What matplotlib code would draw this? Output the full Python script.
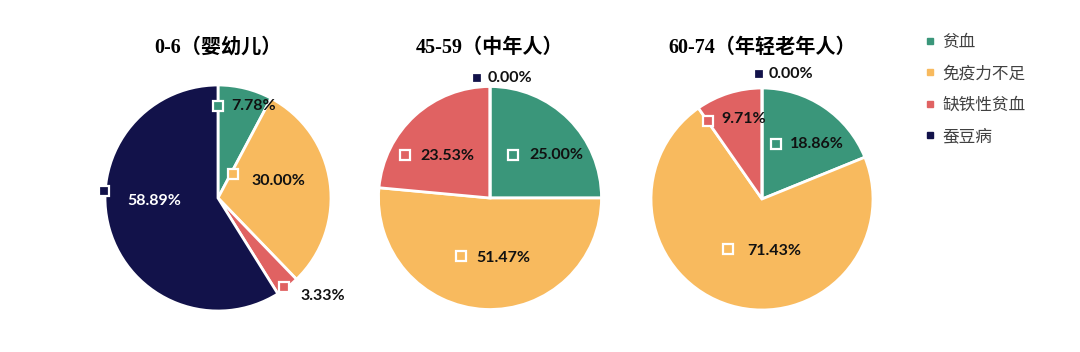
import matplotlib.pyplot as plt
from matplotlib.lines import Line2D

categories = ["贫血", "免疫力不足", "缺铁性贫血", "蚕豆病"]
colors = ["#3a967a", "#f8ba5e", "#e06262", "#12124a"]

titles = ["0-6（婴幼儿）", "45-59（中年人）", "60-74（年轻老年人）"]
infant = [7.78, 30.00, 3.33, 58.89]
middle_aged = [25.00, 51.47, 23.53, 0.00]
young_old = [18.86, 71.43, 9.71, 0.00]
groups = [infant, middle_aged, young_old]

# label layout, in pie-radius units: (marker x, marker y, text x, text y)
label_layout = [
    [(0.00, 0.81, 0.12, 0.81), (0.13, 0.21, 0.30, 0.15),
     (0.58, -0.79, 0.73, -0.87), (-1.01, 0.06, -0.80, -0.03)],
    [(0.21, 0.39, 0.35, 0.39), (-0.26, -0.52, -0.12, -0.54),
     (-0.76, 0.39, -0.62, 0.38), (-0.12, 1.08, -0.02, 1.08)],
    [(0.13, 0.50, 0.25, 0.50), (-0.31, -0.45, -0.13, -0.47),
     (-0.49, 0.70, -0.37, 0.72), (-0.03, 1.13, 0.06, 1.13)],
]
text_colors = [["#111111", "#111111", "#111111", "white"],
               ["#111111"] * 4, ["#111111"] * 4]

W, H = 1080, 352
centers = [(218, 198, 113), (490, 198, 111.5), (762, 199, 111)]

fig = plt.figure(figsize=(W / 100, H / 100), dpi=100)

for i, (cx, cy, r) in enumerate(centers):
    half = 1.3 * r
    ax = fig.add_axes([(cx - half) / W, (H - cy - half) / H, 2 * half / W, 2 * half / H])
    ax.pie(groups[i], colors=colors, startangle=90, counterclock=False,
           wedgeprops=dict(edgecolor="white", linewidth=2))
    ax.set_xlim(-1.3, 1.3)
    ax.set_ylim(-1.3, 1.3)
    ax.set_aspect("equal")
    ax.axis("off")
    for j, v in enumerate(groups[i]):
        mx, my, tx, ty = label_layout[i][j]
        ax.plot(mx, my, marker="s", markersize=7, markerfacecolor=colors[j],
                markeredgecolor="white", markeredgewidth=1.6, linestyle="none",
                clip_on=False)
        ax.text(tx, ty, f"{v:.2f}%", ha="left", va="center", fontsize=11.5,
                fontweight="bold", family=["Lato", "DejaVu Sans"],
                color=text_colors[i][j])
    fig.text(cx / W, 1 - 48 / H, titles[i], ha="center", va="center",
             fontsize=14.5, fontweight="bold",
             family=["Liberation Serif", "Noto Sans CJK SC"])

handles = [Line2D([], [], marker="s", linestyle="none", markersize=5,
                  markerfacecolor=c, markeredgecolor=c) for c in colors]
fig.legend(handles, categories, loc="upper left", bbox_to_anchor=(910 / W, 1 - 19 / H),
           frameon=False, handlelength=0.6, handletextpad=0.45, labelspacing=0.86,
           prop={"family": ["Noto Sans CJK SC"], "size": 12}, labelcolor="#404040")

fig.savefig("out.png", dpi=100)
